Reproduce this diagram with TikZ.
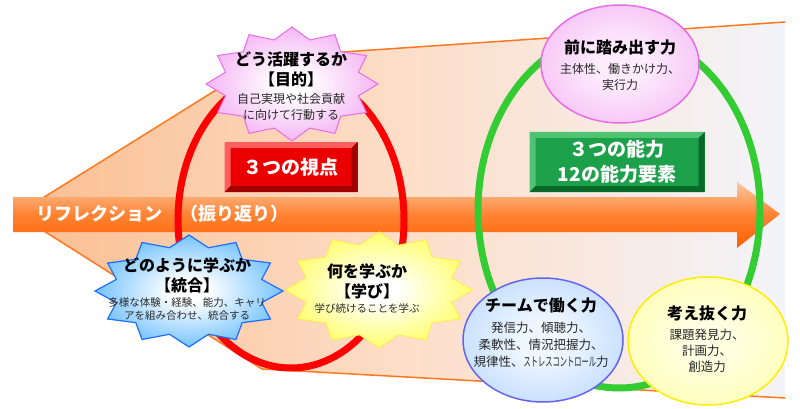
\documentclass[tikz,border=0pt]{standalone}
\usepackage{fontspec}
\setmainfont{Noto Sans CJK JP}
\setsansfont{Noto Sans CJK JP}
\usetikzlibrary{shapes.geometric,calc}
\definecolor{funnelpeach}{RGB}{250,190,145}
\definecolor{funnelmid}{RGB}{253,222,200}
\definecolor{funnelgrey}{RGB}{243,244,250}
\definecolor{funnelline}{RGB}{255,120,30}
\definecolor{bandtop}{RGB}{250,200,160}
\definecolor{bandmid}{RGB}{255,130,50}
\definecolor{bandlow}{RGB}{255,95,0}
\definecolor{ringred}{RGB}{255,0,0}
\definecolor{ringgreen}{RGB}{51,204,51}
\definecolor{boxred}{RGB}{235,0,0}
\definecolor{boxredlt}{RGB}{255,95,95}
\definecolor{boxreddk}{RGB}{160,0,0}
\definecolor{boxgreen}{RGB}{28,160,74}
\definecolor{boxgreenlt}{RGB}{80,195,115}
\definecolor{boxgreendk}{RGB}{10,105,40}
\definecolor{pinkcore}{RGB}{253,236,253}
\definecolor{pinkedge}{RGB}{240,150,240}
\definecolor{pinkline}{RGB}{232,110,232}
\definecolor{bluecore}{RGB}{238,246,255}
\definecolor{blueedge}{RGB}{150,195,255}
\definecolor{blueline}{RGB}{100,100,240}
\definecolor{yellowcore}{RGB}{255,255,225}
\definecolor{yellowedge}{RGB}{255,255,140}
\definecolor{yellowline}{RGB}{255,238,0}
\definecolor{skyedge}{RGB}{70,175,255}
\definecolor{skyline}{RGB}{30,110,255}
\definecolor{lemonedge}{RGB}{255,255,60}
\definecolor{lemonline}{RGB}{255,236,90}
\definecolor{bodygrey}{RGB}{40,40,40}
\pgfdeclareradialshading{glowpink}{\pgfpointorigin}{color(0bp)=(pinkcore); color(8bp)=(pinkcore); color(50bp)=(pinkedge)}
\pgfdeclareradialshading{glowblue}{\pgfpointorigin}{color(0bp)=(bluecore); color(8bp)=(bluecore); color(50bp)=(blueedge)}
\pgfdeclareradialshading{glowyellow}{\pgfpointorigin}{color(0bp)=(yellowcore); color(8bp)=(yellowcore); color(50bp)=(yellowedge)}
\pgfdeclareradialshading{burstpink}{\pgfpointorigin}{color(0bp)=(white); color(5bp)=(white); color(34bp)=(pinkedge); color(50bp)=(pinkedge)}
\pgfdeclareradialshading{burstsky}{\pgfpointorigin}{color(0bp)=(white); color(5bp)=(white); color(32bp)=(skyedge); color(50bp)=(skyedge)}
\pgfdeclareradialshading{burstlemon}{\pgfpointorigin}{color(0bp)=(white); color(5bp)=(white); color(32bp)=(lemonedge); color(50bp)=(lemonedge)}
\newcommand{\SHead}{\fontsize{16}{20}\selectfont\bfseries}
\newcommand{\SText}{\fontsize{12}{16}\selectfont}
\newcommand{\SSmall}{\fontsize{10.5}{13}\selectfont}
\newcommand{\SBand}{\fontsize{18}{22}\selectfont\bfseries}
\newcommand{\SBox}{\fontsize{19}{25}\selectfont\bfseries}
% burst outline: centre, x radius, y radius, style
\newcommand{\burst}[4]{%
  \shadedraw[#4, shift={(#1)}] plot[samples=25, domain=0:24, variable=\k]
    ({(#2)*(1-0.2*mod(round(\k),2))*cos(\k*15+90)},
     {(#3)*(1-0.2*mod(round(\k),2))*sin(\k*15+90)}) -- cycle;}

\begin{document}
\begin{tikzpicture}[x=1pt, y=-1pt,
  font=\SText,
  ring/.style={line width=7pt},
  bevelbox/.style n args={3}{fill=#1, text=white, font=\SBox, align=center,
    inner sep=0pt,
    path picture={
      \fill[#2] (path picture bounding box.south west)
        -- (path picture bounding box.north west)
        -- (path picture bounding box.north east)
        -- ([shift={(-6,6)}]path picture bounding box.north east)
        -- ([shift={(6,6)}]path picture bounding box.north west)
        -- ([shift={(6,-6)}]path picture bounding box.south west) -- cycle;
      \fill[#3] (path picture bounding box.south west)
        -- (path picture bounding box.south east)
        -- (path picture bounding box.north east)
        -- ([shift={(-6,6)}]path picture bounding box.north east)
        -- ([shift={(-6,-6)}]path picture bounding box.south east)
        -- ([shift={(6,-6)}]path picture bounding box.south west) -- cycle;}},
  ability/.style={ellipse, inner sep=0pt, line width=1.5pt},
  abilitytext/.style={text width=170pt, align=center},
  sealtext/.style={text width=190pt, align=center}
]
\useasboundingbox[fill=white] (0,0) rectangle (800,409);

% funnel behind everything
\shade[left color=funnelpeach, right color=funnelgrey, middle color=funnelmid]
  (785,22) -- (269,57) -- (17,214) -- (262,369) -- (785,398) -- cycle;
\draw[funnelline, line width=1.5pt]
  (785,22) -- (269,57) -- (17,214) -- (262,369) -- (785,398);

% reflection arrow
\shade[top color=bandtop, bottom color=bandlow, middle color=bandmid]
  (13,197) -- (737,197) -- (737,182) -- (780,214) -- (737,248)
  -- (737,232) -- (13,232) -- cycle;
\node[anchor=west, text=white, font=\SBand] (reflect) at (33,214)
  {リフレクション　（振り返り）};

% the two rings
\draw[ring, ringred] (291,220) ellipse [x radius=113, y radius=148];
\draw[ring, ringgreen] (619,210) ellipse [x radius=141, y radius=178];

% captions of the rings
\node[bevelbox={boxred}{boxredlt}{boxreddk}, minimum width=133pt,
  minimum height=50pt] (views) at (291,167) {３つの視点};
\node[bevelbox={boxgreen}{boxgreenlt}{boxgreendk}, minimum width=175pt,
  minimum height=60pt] (skills) at (617,162) {３つの能力\\12の能力要素};

% three viewpoints
\burst{292,84}{86}{57}{shading=burstpink, draw=pinkline, line width=1pt}
\node[sealtext] (purpose) at (291,86)
  {{\SHead どう活躍するか\\【目的】\par}\vspace{2pt}
   {\SText\color{bodygrey} 自己実現や社会貢献\\に向けて行動する\par}};
\burst{189,291}{94}{56}{shading=burstsky, draw=skyline, line width=1.2pt}
\node[sealtext] (combine) at (187,289)
  {{\SHead どのように学ぶか\\【統合】\par}\vspace{2pt}
   {\SSmall\color{bodygrey} 多様な体験・経験、能力、キャリ\\アを組み合わせ、統合する\par}};
\burst{379,290}{94}{58}{shading=burstlemon, draw=lemonline, line width=1pt}
\node[sealtext] (learn) at (367,289)
  {{\SHead 何を学ぶか\\【学び】\par}\vspace{2pt}
   {\SSmall\color{bodygrey} 学び続けることを学ぶ\par}};

% three abilities
\node[ability, shading=glowpink, draw=pinkline, minimum width=158pt,
  minimum height=118pt] (action) at (620,64) {};
\node[abilitytext] (actiontext) at (620,65)
  {{\SHead 前に踏み出す力\par}\vspace{4pt}
   {\SText\color{bodygrey} 主体性、働きかけ力、\\実行力\par}};
\node[ability, shading=glowblue, draw=blueline, minimum width=160pt,
  minimum height=124pt] (team) at (543,340) {};
\node[abilitytext] (teamtext) at (541,333)
  {{\SHead チームで働く力\par}\vspace{4pt}
   {\fontsize{12.5}{17}\selectfont\color{bodygrey} 発信力、傾聴力、\\柔軟性、情況把握力、\\
    規律性、\scalebox{0.58}[1]{ストレスコントロール}力\par}};
\node[ability, shading=glowyellow, draw=yellowline, minimum width=160pt,
  minimum height=128pt] (think) at (708,341) {};
\node[abilitytext] (thinktext) at (707,339)
  {{\SHead 考え抜く力\par}\vspace{4pt}
   {\fontsize{12.5}{16}\selectfont\color{bodygrey} 課題発見力、\\計画力、\\創造力\par}};
\end{tikzpicture}
\end{document}
